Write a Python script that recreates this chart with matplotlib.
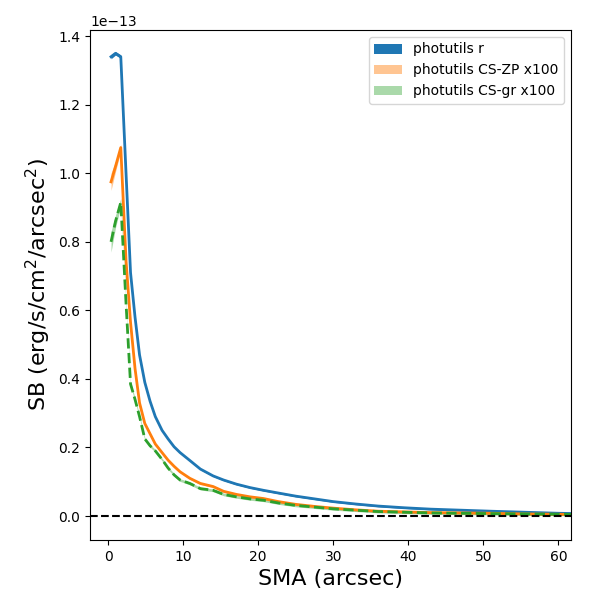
import matplotlib
matplotlib.use("Agg")
import matplotlib.pyplot as plt
import numpy as np

# SMA sampling (arcsec)
sma = [0.4, 1.0, 1.7, 2.4, 3.0, 3.6, 4.2, 4.9, 5.6, 6.3, 7.2, 8.0, 8.8, 9.6,
       10.9, 12.3, 14.0, 15.4, 17.1, 18.9, 20.7, 22.7, 25.0, 27.5, 30.0, 33.0,
       36.0, 39.5, 43.0, 47.0, 51.0, 55.5, 60.0, 65.0]

# surface brightness in units of 1e-13 erg/s/cm^2/arcsec^2
sb_r = [1.34, 1.35, 1.34, 1.00, 0.71, 0.58, 0.47, 0.39, 0.335, 0.29, 0.25, 0.225,
        0.202, 0.185, 0.162, 0.137, 0.117, 0.105, 0.093, 0.083, 0.075, 0.067,
        0.058, 0.050, 0.042, 0.035, 0.029, 0.024, 0.020, 0.017, 0.014, 0.011,
        0.008, 0.006]
sb_zp = [0.975, 1.02, 1.075, 0.745, 0.565, 0.43, 0.33, 0.27, 0.24, 0.21, 0.185,
         0.163, 0.145, 0.129, 0.110, 0.095, 0.086, 0.072, 0.063, 0.056, 0.051,
         0.042, 0.034, 0.028, 0.023, 0.018, 0.014, 0.012, 0.010, 0.009, 0.008,
         0.006, 0.005, 0.004]
sb_gr = [0.80, 0.86, 0.915, 0.62, 0.385, 0.34, 0.29, 0.225, 0.205, 0.19, 0.165,
         0.140, 0.120, 0.105, 0.095, 0.080, 0.075, 0.063, 0.056, 0.050, 0.046,
         0.038, 0.031, 0.026, 0.021, 0.017, 0.013, 0.011, 0.009, 0.008, 0.007,
         0.006, 0.005, 0.004]

err_r = [0.006, 0.005, 0.005, 0.004, 0.003, 0.003, 0.002, 0.002, 0.002, 0.002,
         0.002, 0.002, 0.002, 0.002, 0.002, 0.002, 0.002, 0.002, 0.002, 0.002,
         0.002, 0.002, 0.002, 0.002, 0.002, 0.002, 0.002, 0.002, 0.002, 0.002,
         0.002, 0.002, 0.002, 0.002]
err_zp = [0.025, 0.015, 0.010, 0.006, 0.005, 0.004, 0.004, 0.003, 0.003, 0.003,
          0.003, 0.003, 0.003, 0.003, 0.003, 0.003, 0.003, 0.003, 0.003, 0.003,
          0.003, 0.003, 0.003, 0.003, 0.003, 0.003, 0.003, 0.003, 0.003, 0.003,
          0.003, 0.003, 0.003, 0.003]
err_gr = [0.030, 0.018, 0.012, 0.008, 0.006, 0.005, 0.005, 0.004, 0.004, 0.004,
          0.004, 0.004, 0.004, 0.004, 0.004, 0.004, 0.004, 0.004, 0.004, 0.004,
          0.004, 0.004, 0.004, 0.004, 0.004, 0.004, 0.004, 0.004, 0.004, 0.004,
          0.004, 0.004, 0.004, 0.004]

scale = 1e-13
x = np.array(sma)

fig = plt.figure(figsize=(6, 6), dpi=100)
ax = fig.add_axes([0.15, 0.10, 0.802, 0.85])

series = [
    (sb_r, err_r, "C0", 1.0, "-", "photutils r"),
    (sb_zp, err_zp, "C1", 0.45, "-", "photutils CS-ZP x100"),
    (sb_gr, err_gr, "C2", 0.4, "--", "photutils CS-gr x100"),
]
for sb, err, col, alpha, ls, lab in series:
    y = np.array(sb) * scale
    e = np.array(err) * scale
    ax.fill_between(x, y - e, y + e, color=col, alpha=alpha, lw=0, label=lab)
    ax.plot(x, y, color=col, ls=ls, lw=2)

ax.axhline(0, color="k", ls="--", lw=1.5)

ax.set_xlim(-2.4, 61.7)
ax.set_ylim(-0.07e-13, 1.418e-13)
ax.set_xlabel("SMA (arcsec)", fontsize=16)
ax.set_ylabel("SB (erg/s/cm$^2$/arcsec$^2$)", fontsize=16)
ax.legend(loc="upper right")

fig.savefig("out.png", dpi=100)
